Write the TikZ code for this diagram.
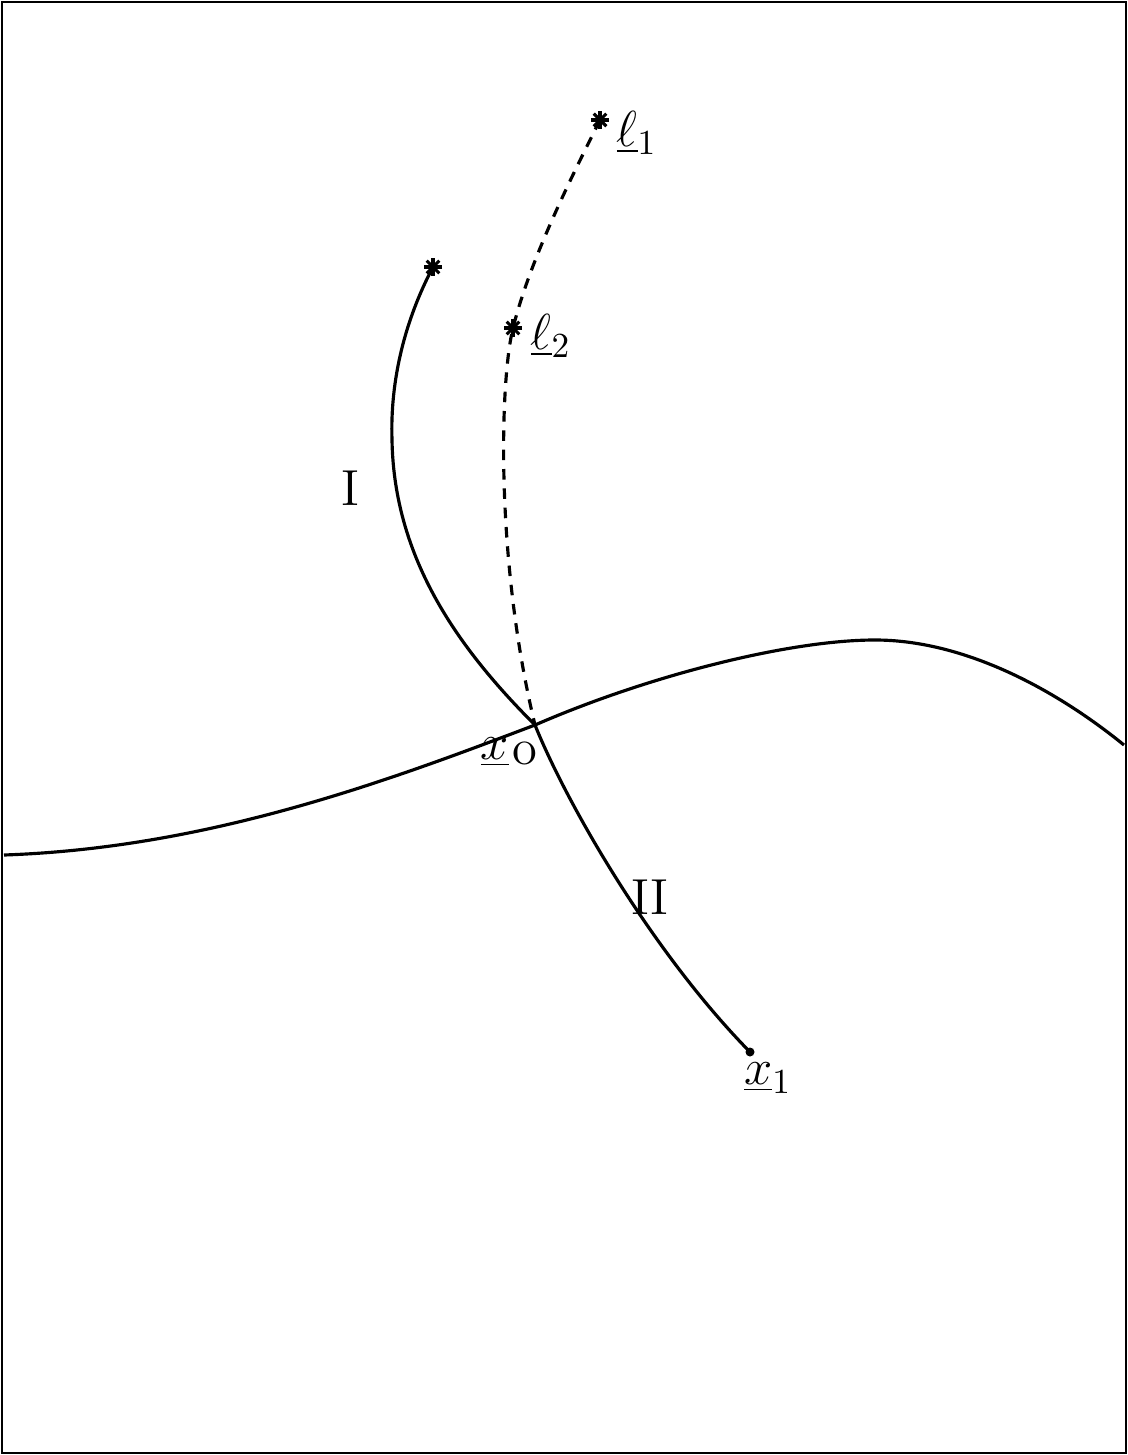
\documentclass[tikz,border=0pt]{standalone}
\begin{document}
\begin{tikzpicture}[x=0.01cm,y=-0.01cm,
  curve/.style={line width=0.9pt},
  dcurve/.style={line width=0.9pt,dash pattern=on 3pt off 2.5pt},
  lbl/.style={font=\Large,inner sep=1pt},
  astk/.style={line width=0.9pt}]
\useasboundingbox (0,0) rectangle (1128,1455);
\draw[line width=0.6pt] (2,2) rectangle (1126,1453);
% key points
\coordinate (sI) at (433,267);
\coordinate (s1) at (600,120);
\coordinate (s2) at (513,328);
\coordinate (xo) at (535,725);
\coordinate (x1) at (750,1052);
% boundary curve
\draw[curve] (4,855) .. controls (210,848) and (390,780) .. (xo)
  .. controls (650,675) and (790,640) .. (875,640)
  .. controls (960,640) and (1050,685) .. (1124,745);
% path I + II
\draw[curve] (sI) .. controls (405,320) and (390,380) .. (392,440)
  .. controls (394,560) and (460,650) .. (xo)
  .. controls (565,800) and (650,950) .. (x1);
% dashed path
\draw[dcurve] (s1) .. controls (570,180) and (530,260) .. (s2)
  .. controls (500,380) and (495,560) .. (xo);
% asterisks
\foreach \p in {sI,s1,s2}{
  \foreach \a in {0,45,90,135}{\draw[astk] (\p) ++(\a:9) -- ++(\a+180:18);}
}
\fill (x1) circle (4.5);
% labels
\node[lbl] (lp1) at (637,133) {$\underline{\ell}_1$};
\node[lbl] (lp2) at (551,336) {$\underline{\ell}_2$};
\node[lbl] (lI) at (350,488) {I};
\node[lbl] (lII) at (650,897) {II};
\node[lbl] (lx) at (495,752) {$\underline{x}$};
\node[lbl] (lo) at (525,754) {$\mathrm{o}$};
\node[lbl] (lx1) at (768,1078) {$\underline{x}_1$};
\end{tikzpicture}
\end{document}
